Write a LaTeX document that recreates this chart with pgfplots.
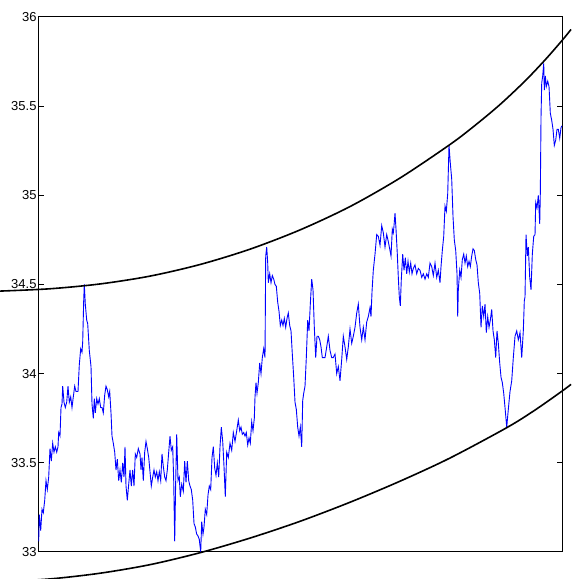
\documentclass[border=0pt]{standalone}
\usepackage{pgfplots}
\pgfplotsset{compat=1.18}
\usepackage{pgfplotstable}
\usepackage{fontspec}
\setmainfont{Liberation Sans}

\pgfplotstableread{
x y
0.2 33.06
0.8 33.21
2.2 33.12
3.5 33.24
4.8 33.22
6.2 33.29
7.5 33.40
8.8 33.35
10.2 33.42
11.5 33.58
12.8 33.51
14.2 33.61
15.5 33.56
16.8 33.59
18.2 33.56
19.5 33.59
20.2 33.67
21.5 33.65
22.5 33.81
23.5 33.83
24.2 33.93
25.5 33.84
26.8 33.81
28.2 33.84
29.5 33.93
30.8 33.84
32.2 33.87
33.5 33.81
34.8 33.87
36.2 33.93
37.5 33.90
39.5 33.90
40.8 34.05
42.2 34.14
43.5 34.12
44.2 34.18
45.2 34.41
45.8 34.50
46.8 34.39
48.2 34.30
49.2 34.28
50.8 34.13
52.5 34.04
53.5 33.83
54.8 33.75
55.8 33.86
56.8 33.78
58.2 33.86
59.5 33.83
60.8 33.86
62.2 33.81
63.5 33.81
64.8 33.78
66.2 33.88
67.5 33.93
68.8 33.91
70.2 33.87
71.2 33.90
72.5 33.78
73.5 33.65
74.8 33.61
76.2 33.56
77.5 33.46
78.8 33.52
80.2 33.40
81.5 33.46
82.8 33.39
84.2 33.50
85.5 33.42
86.5 33.59
87.5 33.37
88.8 33.29
90.2 33.38
91.5 33.46
92.8 33.37
94.2 33.46
95.5 33.37
96.8 33.55
98.2 33.53
99.8 33.58
101.5 33.55
102.5 33.46
103.5 33.53
104.8 33.40
106.2 33.56
107.5 33.62
108.8 33.58
110.2 33.53
111.5 33.45
112.8 33.37
114.2 33.42
115.5 33.46
116.8 33.42
118.2 33.45
119.5 33.40
120.8 33.45
122.2 33.40
123.5 33.55
124.8 33.48
126.2 33.42
127.5 33.40
128.8 33.46
130.2 33.56
131.5 33.65
132.8 33.57
134.2 33.59
135.2 33.40
136.2 33.06
137.2 33.40
138.2 33.66
139.5 33.40
140.8 33.42
141.8 33.31
143.2 33.38
144.8 33.34
146.2 33.51
147.5 33.39
148.8 33.51
150.2 33.40
151.5 33.37
152.8 33.35
154.2 33.29
155.5 33.16
156.8 33.14
158.2 33.10
159.5 33.09
160.8 33.07
162.2 33.00
163.2 33.17
164.5 33.10
165.5 33.14
166.8 33.24
168.2 33.21
169.5 33.32
170.8 33.37
172.2 33.35
173.5 33.53
174.8 33.59
176.2 33.47
177.5 33.43
178.8 33.50
180.2 33.42
181.5 33.59
182.8 33.70
184.2 33.62
185.5 33.48
186.8 33.31
188.2 33.56
189.8 33.53
191.5 33.61
193.2 33.57
194.8 33.67
196.5 33.62
198.2 33.68
199.8 33.74
201.2 33.68
202.5 33.70
203.8 33.66
205.2 33.67
206.5 33.65
207.8 33.67
209.2 33.60
210.5 33.64
211.8 33.61
213.2 33.73
214.5 33.68
215.8 33.75
216.5 33.87
217.5 33.95
218.5 33.89
219.8 33.95
221.2 34.06
222.5 34.00
223.8 34.09
225.2 34.14
226.5 34.09
227.2 34.66
228.2 34.71
229.2 34.62
229.8 34.51
231.2 34.56
232.5 34.51
233.8 34.55
235.2 34.53
236.5 34.50
237.8 34.49
239.2 34.40
240.5 34.35
241.8 34.27
243.2 34.30
244.5 34.27
245.8 34.31
247.2 34.26
248.5 34.31
249.8 34.34
251.2 34.27
252.5 34.24
253.8 34.11
255.2 33.98
256.5 33.84
257.8 33.80
259.2 33.70
260.5 33.65
261.8 33.70
263.2 33.59
264.2 33.85
265.2 33.89
266.5 33.93
267.8 34.09
269.2 34.30
270.5 34.24
271.8 34.39
273.2 34.53
274.5 34.47
275.8 34.26
277.2 34.09
278.5 34.21
279.8 34.21
281.2 34.19
282.5 34.15
283.8 34.09
285.2 34.09
286.5 34.09
288.2 34.15
289.8 34.21
291.5 34.13
293.2 34.09
294.8 34.09
296.5 34.11
298.2 34.00
299.8 34.04
301.5 33.96
303.2 34.08
304.8 34.21
306.5 34.15
308.2 34.08
309.8 34.15
311.5 34.25
313.2 34.17
314.8 34.21
316.5 34.26
318.2 34.34
319.8 34.39
321.5 34.26
323.2 34.19
324.8 34.26
326.5 34.19
328.2 34.29
329.8 34.32
331.5 34.37
332.5 34.32
333.5 34.46
334.8 34.58
336.5 34.67
338.2 34.78
339.8 34.77
341.5 34.72
343.2 34.83
344.8 34.79
346.5 34.71
348.2 34.78
349.8 34.74
351.5 34.69
352.5 34.66
353.8 34.81
354.8 34.79
355.5 34.83
356.5 34.90
357.5 34.81
358.8 34.67
359.8 34.54
360.8 34.43
361.8 34.38
362.8 34.53
364.2 34.67
365.5 34.58
366.8 34.65
368.2 34.56
369.5 34.63
370.8 34.57
372.2 34.62
373.5 34.56
374.8 34.59
376.5 34.61
378.2 34.56
379.8 34.59
381.5 34.58
383.2 34.54
384.8 34.56
386.5 34.53
388.2 34.56
389.8 34.54
391.5 34.62
393.2 34.60
394.8 34.55
396.5 34.62
398.2 34.54
399.8 34.58
401.5 34.51
402.5 34.60
403.8 34.69
405.2 34.77
406.5 34.94
407.8 34.91
409.2 35.01
410.5 35.28
411.8 35.18
413.2 35.09
414.5 34.88
415.8 34.75
417.2 34.69
418.5 34.56
419.2 34.32
419.8 34.47
421.2 34.58
422.5 34.54
423.8 34.64
425.2 34.67
426.5 34.62
427.8 34.66
429.2 34.60
430.5 34.63
431.8 34.60
433.2 34.66
434.5 34.70
435.8 34.69
437.2 34.64
438.5 34.61
439.8 34.51
441.2 34.45
442.5 34.26
443.8 34.38
445.2 34.32
446.5 34.39
447.8 34.23
449.2 34.32
450.5 34.26
451.8 34.30
453.2 34.36
454.5 34.24
455.8 34.19
457.2 34.09
458.5 34.24
459.8 34.17
461.2 34.06
462.5 33.98
463.8 33.95
465.2 33.89
466.5 33.81
468.2 33.70
469.8 33.80
471.5 33.90
473.2 33.96
474.8 34.09
476.5 34.21
478.2 34.24
479.8 34.19
481.5 34.23
483.2 34.09
484.8 34.24
485.8 34.41
486.5 34.43
487.5 34.78
488.8 34.66
489.8 34.71
491.2 34.54
492.5 34.47
493.8 34.67
495.2 34.77
496.5 34.78
497.2 34.96
498.5 34.93
499.8 35.00
501.2 34.84
501.8 35.01
502.5 35.44
503.2 35.63
504.2 35.67
505.2 35.74
505.8 35.59
506.8 35.67
507.8 35.61
509.2 35.64
510.5 35.61
511.8 35.46
513.2 35.42
514.5 35.37
515.8 35.28
517.2 35.31
518.5 35.37
519.8 35.37
521.2 35.32
522.5 35.38
523.5 35.39
}\pricedata

\pgfplotstableread{
x y
-38.5 34.463
11.5 34.476
61.5 34.503
111.5 34.547
161.5 34.612
211.5 34.698
261.5 34.806
311.5 34.937
361.5 35.097
411.5 35.285
436.5 35.392
461.5 35.509
486.5 35.641
506.5 35.759
523.5 35.868
532.5 35.930
}\upperband

\pgfplotstableread{
x y
-38.5 32.833
11.5 32.849
61.5 32.881
111.5 32.929
161.5 32.996
211.5 33.078
261.5 33.172
311.5 33.279
361.5 33.397
411.5 33.527
468.5 33.698
496.5 33.796
523.5 33.902
532.5 33.940
}\lowerband

\begin{document}
\begin{tikzpicture}
\begin{axis}[
  scale only axis,
  width=261.75pt, height=267.5pt,
  xmin=0, xmax=523.5,
  ymin=33, ymax=36,
  xtick=\empty,
  ytick={33,33.5,34,34.5,35,35.5,36},
  yticklabels={33,33.5,34,34.5,35,35.5,36},
  tick align=inside,
  major tick length=2.5pt,
  axis line style={line width=0.5pt},
  every tick/.style={line width=0.5pt, black},
  yticklabel style={font=\fontsize{6.5}{7}\selectfont, inner sep=0.8pt},
  /pgf/number format/assume math mode=true,
  clip=false,
]
\addplot[blue, line width=0.45pt] table[x=x,y=y] {\pricedata};
\addplot[black, line width=0.8pt, smooth] table[x=x,y=y] {\upperband};
\addplot[black, line width=0.8pt, smooth] table[x=x,y=y] {\lowerband};
\coordinate (BBa) at (axis cs:-38.5,32.8486);
\coordinate (BBb) at (axis cs:532.5,36.0953);
\end{axis}
\pgfresetboundingbox
\useasboundingbox (BBa) rectangle (BBb);
\end{tikzpicture}
\end{document}
